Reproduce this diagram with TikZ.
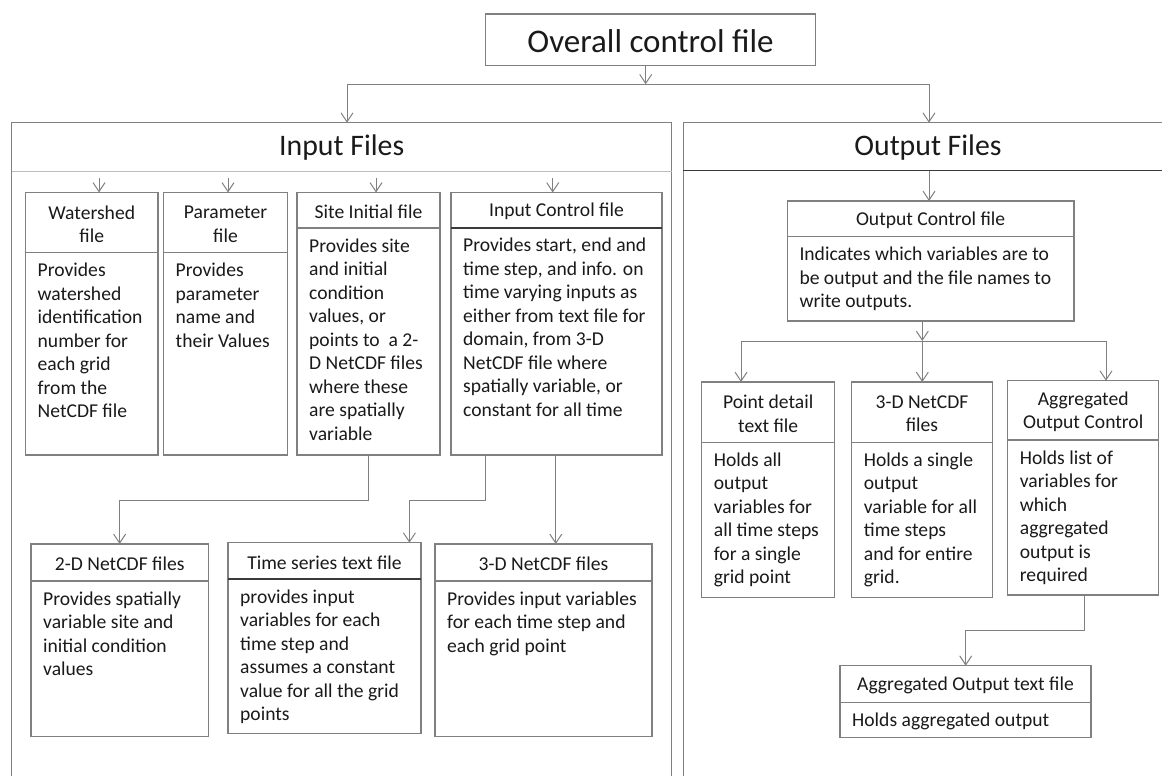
\documentclass[tikz,border=0pt]{standalone}
\usepackage{fontspec}
\setmainfont{Carlito}
\usetikzlibrary{arrows.meta}
\definecolor{lin}{HTML}{808080}
\definecolor{lightlin}{HTML}{BDBDBD}
\definecolor{darklin}{HTML}{3A3A3A}
\definecolor{txt}{HTML}{1A1A1A}
\tikzset{
  boxframe/.style={draw=lin, line width=1.1pt, inner sep=0pt, outer sep=0pt, rectangle},
  divline/.style={draw=lin, line width=1.1pt},
  thickdiv/.style={draw=darklin, line width=2.2pt},
  titletext/.style={font=\fontsize{19.6}{23.5}\selectfont, text=txt, align=center, inner sep=0pt},
  bodytext/.style={font=\fontsize{19.6}{23.5}\selectfont, text=txt, inner sep=0pt, anchor=base west},
  headtext/.style={font=\fontsize{29.8}{34}\selectfont, text=txt, inner sep=0pt},
  arr/.style={draw=lin, line width=1pt, -{Straight Barb[length=9pt,width=12pt]}},
  conn/.style={draw=lin, line width=1pt},
}
\newcommand{\mkbox}[9]{%
  \node[boxframe, minimum width={#4-#2}, minimum height={#5-#3}] (#1) at ({(#2+#4)/2},{(#3+#5)/2}) {};
  \draw[#9] (#2,#6) -- (#4,#6);
  \node[titletext] (#1-t) at ({(#2+#4)/2},{(#3+#6)/2+1.5}) {#7};
  \node[bodytext] (#1-b) at ({#2+12},{#6+24}) {\begin{tabular}[t]{@{}l@{}}#8\end{tabular}};
}
\begin{document}
\begin{tikzpicture}[x=1pt,y=-1pt]
\useasboundingbox[fill=white] (0,0) rectangle (1162,776);

% top box
\node[boxframe, minimum width=330pt, minimum height=51.7pt] (top) at (650.5,39.9) {};
\node[font=\fontsize{33}{38}\selectfont, text=txt, inner sep=0pt] (top-t) at (650.5,41) {Overall control file};

% panels
\node[boxframe, minimum width=660pt, minimum height=670pt, anchor=north west] (inp) at (11.7,122.7) {};
\draw[draw=lightlin, line width=1.2pt] (11.7,171.7) -- (671.7,171.7);
\node[headtext] (inp-t) at (341.7,148) {Input Files};

\node[boxframe, minimum width=490pt, minimum height=670pt, anchor=north west] (out) at (683.3,122.7) {};
\draw[draw=darklin, line width=1.5pt] (683.3,170.7) -- (1175,170.7);
\node[headtext] (out-t) at (928,148) {Output Files};

% top connectors
\coordinate (j0) at (645.7,84.3);
\coordinate (jl) at (347,84.3);
\coordinate (jr) at (929,84.3);
\draw[arr] (top.south -| j0) -- (j0);
\draw[conn] (jl) -- (jr);
\draw[arr] (jl) -- (jl |- inp.north);
\draw[arr] (jr) -- (jr |- out.north);

% input boxes
\mkbox{ws}{25.5}{192.5}{158}{455}{252.7}{Watershed\\file}{Provides\\watershed\\identification\\number for\\each grid\\from the\\NetCDF file}{divline}
\mkbox{par}{163.5}{192.5}{287.5}{455}{252.7}{Parameter\\file}{Provides\\parameter\\name and\\their Values}{divline}
\mkbox{site}{297}{192.5}{440}{455}{228}{Site Initial file}{Provides site\\and initial\\condition\\values, or\\points to\ \ a 2-\\D NetCDF files\\where these\\are spatially\\variable}{divline}
\mkbox{ictl}{451}{192.5}{662}{455}{227.7}{Input Control file}{Provides start, end and\\time step, and info. on\\time varying inputs as\\either from text file for\\domain, from 3-D\\NetCDF file where\\spatially variable, or\\constant for all time}{thickdiv}

\mkbox{nc2}{31}{544}{208.5}{736.7}{581}{2-D NetCDF files}{Provides spatially\\variable site and\\initial condition\\values}{divline}
\mkbox{ts}{228}{542.7}{421}{733.3}{579}{Time series text file}{provides input\\variables for each\\time step and\\assumes a constant\\value for all the grid\\points}{thickdiv}
\mkbox{nc3}{435}{544}{652}{736.7}{581}{3-D NetCDF files}{Provides input variables\\for each time step and\\each grid point}{divline}

% input arrows from header
\foreach \xx/\nn in {99/ws, 228/par, 376/site, 552.7/ictl} {
  \coordinate (s-\nn) at (\xx,178);
  \draw[arr] (s-\nn) -- (s-\nn |- \nn.north);
}

% input connectors
\coordinate (c1a) at (368.8,500);
\coordinate (c1b) at (119.6,500);
\draw[arr] (site.south -| c1a) -- (c1a) -- (c1b) -- (c1b |- nc2.north);
\coordinate (c2a) at (485.7,500);
\coordinate (c2b) at (409.4,500);
\draw[arr] (ictl.south -| c2a) -- (c2a) -- (c2b) -- (c2b |- ts.north);
\coordinate (c3a) at (555.8,500);
\draw[arr] (ictl.south -| c3a) -- (c3a |- nc3.north);

% output boxes
\mkbox{octl}{787.3}{201}{1074}{321}{236.7}{Output Control file}{Indicates which variables are to\\be output and the file names to\\write outputs.}{divline}
\mkbox{pd}{701.7}{382}{834.7}{597.7}{442.3}{Point detail\\text file}{Holds all\\output\\variables for\\all time steps\\for a single\\grid point}{divline}
\mkbox{onc}{851.7}{382}{992.3}{597.7}{442.3}{3-D NetCDF\\files}{Holds a single\\output\\variable for all\\time steps\\and for entire\\grid.}{divline}
\mkbox{actl}{1007.7}{380.7}{1158.7}{595}{440}{Aggregated\\Output Control}{Holds list of\\variables for\\which\\aggregated\\output is\\required}{divline}
\mkbox{atxt}{840}{665.7}{1091}{737.3}{702.3}{Aggregated Output text file}{Holds aggregated output}{divline}

% output connectors
\coordinate (so) at (929,170.7);
\draw[arr] (so) -- (so |- octl.north);
\coordinate (o0) at (922.3,341);
\coordinate (ol) at (741,341);
\coordinate (or) at (1106,341);
\draw[arr] (octl.south -| o0) -- (o0);
\draw[conn] (ol) -- (or);
\draw[arr] (ol) -- (ol |- pd.north);
\draw[arr] (o0) -- (o0 |- onc.north);
\draw[arr] (or) -- (or |- actl.north);
\coordinate (a1) at (1084,630);
\coordinate (a2) at (965.7,630);
\draw[arr] (actl.south -| a1) -- (a1) -- (a2) -- (a2 |- atxt.north);
\end{tikzpicture}
\end{document}
